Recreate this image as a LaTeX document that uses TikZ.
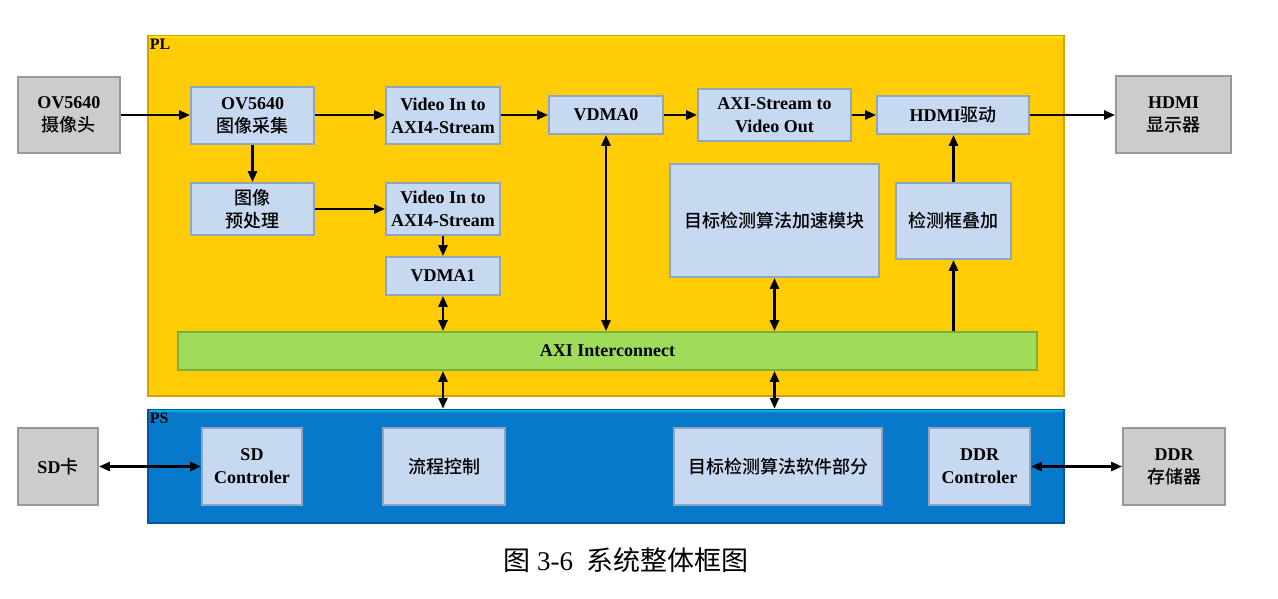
\documentclass[tikz,border=0pt]{standalone}
\usepackage{fontspec}
\setmainfont{Liberation Serif}
\newfontfamily\cjk{Noto Sans CJK SC}
\newfontfamily\cjkm{Noto Sans CJK SC Medium}
\usetikzlibrary{arrows.meta,calc}
\definecolor{lbfill}{HTML}{C6D9F1}
\definecolor{lbdraw}{HTML}{8FA6C3}
\definecolor{gyfill}{HTML}{CCCCCC}
\definecolor{gydraw}{HTML}{999999}
\definecolor{grfill}{HTML}{A0DC5A}
\definecolor{grdraw}{HTML}{78B040}
\definecolor{ylfill}{HTML}{FFCC05}
\definecolor{yldraw}{HTML}{D4A200}
\definecolor{psfill}{HTML}{0779CA}
\definecolor{psdraw}{HTML}{05569A}
\newcommand{\zh}[1]{{\cjkm\mdseries #1}}
\begin{document}
\begin{tikzpicture}[x=1pt,y=-1pt,
  every node/.style={font=\fontsize{18}{23}\selectfont\bfseries, align=center, inner sep=0pt},
  bluebox/.style={draw=lbdraw, fill=lbfill, line width=1.8pt},
  graybox/.style={draw=gydraw, fill=gyfill, line width=1.8pt},
  arr/.style={line width=2.6pt, -{Triangle[length=11pt,width=9pt]}},
  darr/.style={line width=2.6pt, {Triangle[length=11pt,width=9pt]}-{Triangle[length=11pt,width=9pt]}}
]
\useasboundingbox (0,0) rectangle (1278,598);
% regions
\node[draw=yldraw, fill=ylfill, line width=2.5pt, minimum width=916pt, minimum height=360pt] (pl) at (606,216) {};
\draw[line width=2pt, color=yellow!60!ylfill] ([shift={(2,2)}]pl.north west) -- ([shift={(-2,2)}]pl.north east);
\node[draw=psdraw, fill=psfill, line width=2.5pt, minimum width=916pt, minimum height=113pt] (ps) at (606,466.5) {};
\draw[line width=2pt, color=psfill!60!cyan] ([shift={(2,2)}]ps.north west) -- ([shift={(-2,2)}]ps.north east);
\node[anchor=north west, font=\fontsize{16}{18}\selectfont\bfseries] (pllab) at ([shift={(3,4)}]pl.north west) {PL};
\node[anchor=north west, font=\fontsize{16}{18}\selectfont\bfseries] (pslab) at ([shift={(3,4)}]ps.north west) {PS};
% outside boxes
\node[graybox, minimum width=102pt, minimum height=76pt] (cam) at (69,115) {OV5640\\\zh{摄像头}};
\node[graybox, minimum width=115pt, minimum height=77pt] (disp) at (1173.5,114.5) {HDMI\\\zh{显示器}};
\node[graybox, minimum width=80pt, minimum height=77pt] (sd) at (58,466.5) {SD\zh{卡}};
\node[graybox, minimum width=102pt, minimum height=77pt] (ddr) at (1174,466.5) {DDR\\\zh{存储器}};
% PL boxes
\node[bluebox, minimum width=123pt, minimum height=57pt] (cap) at (252.5,115.5) {OV5640\\\zh{图像采集}};
\node[bluebox, minimum width=114pt, minimum height=57pt] (vin1) at (443,115.5) {Video In to\\AXI4-Stream};
\node[bluebox, minimum width=114pt, minimum height=38pt] (vdma0) at (606,115) {VDMA0};
\node[bluebox, minimum width=153pt, minimum height=52pt] (a2v) at (774.5,115) {AXI-Stream to\\Video Out};
\node[bluebox, minimum width=152pt, minimum height=38pt] (hdmi) at (953,115) {HDMI\zh{驱动}};
\node[bluebox, minimum width=123pt, minimum height=52pt] (pre) at (252.5,209) {\zh{图像}\\\zh{预处理}};
\node[bluebox, minimum width=114pt, minimum height=52pt] (vin2) at (443,209) {Video In to\\AXI4-Stream};
\node[bluebox, minimum width=114pt, minimum height=38pt] (vdma1) at (443,276) {VDMA1};
\node[bluebox, minimum width=209pt, minimum height=113pt] (acc) at (774.5,220.5) {\zh{目标检测算法加速模块}};
\node[bluebox, minimum width=115pt, minimum height=76pt] (ovl) at (953.5,221) {\zh{检测框叠加}};
\node[draw=grdraw, fill=grfill, line width=1.8pt, minimum width=859pt, minimum height=38pt] (axi) at (607.5,351) {AXI Interconnect};
% PS boxes
\node[bluebox, minimum width=100pt, minimum height=77pt] (sdc) at (252,466.5) {SD\\Controler};
\node[bluebox, minimum width=122pt, minimum height=77pt] (flow) at (444,466.5) {\zh{流程控制}};
\node[bluebox, minimum width=208pt, minimum height=77pt] (sw) at (778,466.5) {\zh{目标检测算法软件部分}};
\node[bluebox, minimum width=101pt, minimum height=77pt] (ddrc) at (979.5,466.5) {DDR\\Controler};
% caption
\node[font=\fontsize{27}{30}\selectfont] (cap36) at (626,560) {{\cjk 图} 3-6\hspace{0.5em}{\cjk 系统整体框图}};
% arrows
\draw[arr] (cam.east) -- (cam.east -| cap.west);
\draw[arr] (cap.east |- 0,115) -- (vin1.west |- 0,115);
\draw[arr] (vin1.east |- 0,115) -- (vdma0.west);
\draw[arr] (vdma0.east) -- (a2v.west);
\draw[arr] (a2v.east) -- (hdmi.west);
\draw[arr] (hdmi.east) -- (hdmi.east -| disp.west);
\draw[arr] (cap.south) -- (pre.north);
\draw[arr] (pre.east) -- (vin2.west);
\draw[arr] (vin2.south) -- (vdma1.north);
\draw[darr] (vdma1.south) -- (vdma1.south |- axi.north);
\draw[darr] (vdma0.south) -- (vdma0.south |- axi.north);
\draw[darr] (acc.south) -- (acc.south |- axi.north);
\draw[arr] (ovl.south |- axi.north) -- (ovl.south);
\draw[arr] (ovl.north) -- (ovl.north |- hdmi.south);
\draw[darr] (vdma1.south |- axi.south) -- (vdma1.south |- ps.north);
\draw[darr] (acc.south |- axi.south) -- (acc.south |- ps.north);
\draw[darr] (sd.east) -- (sdc.west);
\draw[darr] (ddrc.east) -- (ddr.west);
\end{tikzpicture}
\end{document}
